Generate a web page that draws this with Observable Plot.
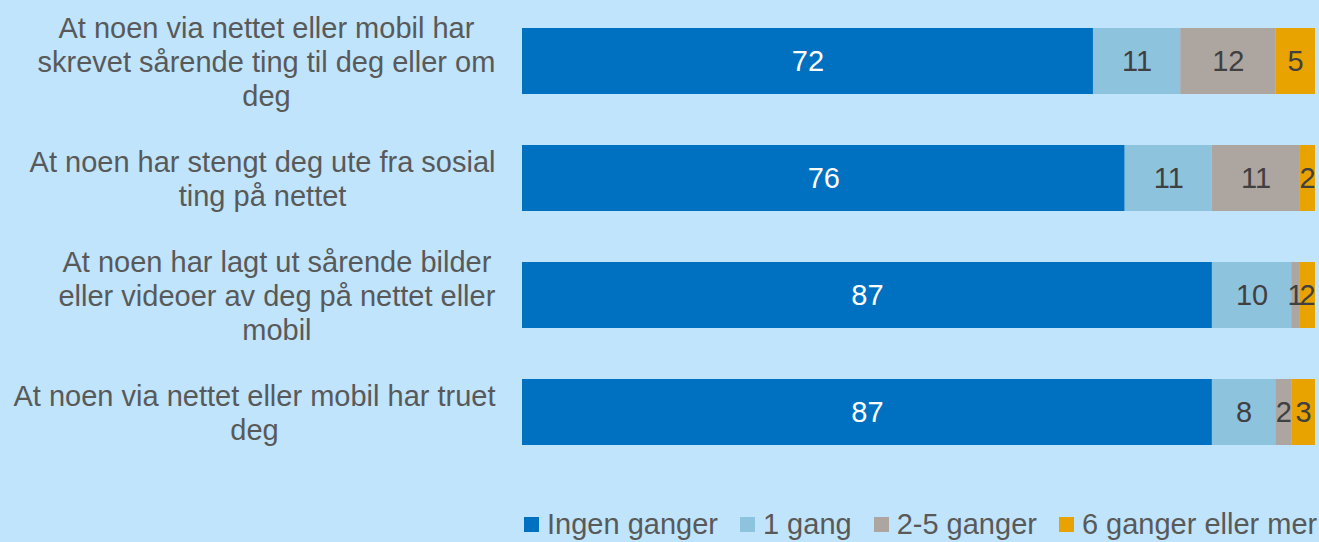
<!DOCTYPE html>
<html>
<head>
<meta charset="utf-8">
<script src="https://cdn.jsdelivr.net/npm/d3@7"></script>
<script src="https://cdn.jsdelivr.net/npm/@observablehq/plot@0.6"></script>
<style>
  html, body { margin: 0; padding: 0; background: #BFE4FC; }
  #chart { width: 1319px; height: 542px; position: relative; background: #BFE4FC; font-family: "Liberation Sans", Arial, sans-serif; }
  .legend { display: flex; align-items: center; position: absolute; left: 524px; top: 508px; font-size: 29px; color: #595959; white-space: nowrap; }
  .legend .item { display: flex; align-items: center; margin-right: 22px; }
  .legend .sw { width: 15px; height: 15px; margin-right: 8px; }
</style>
</head>
<body>
<div id="chart"></div>
<script>
const categories = [
  "At noen via nettet eller mobil har\nskrevet sårende ting til deg eller om\ndeg",
  "At noen har stengt deg ute fra sosial\nting på nettet",
  "At noen har lagt ut sårende bilder\neller videoer av deg på nettet eller\nmobil",
  "At noen via nettet eller mobil har truet\ndeg"
];
const seriesNames = ["Ingen ganger", "1 gang", "2-5 ganger", "6 ganger eller mer"];
const ingenGanger = [72, 76, 87, 87];
const enGang = [11, 11, 10, 8];
const toFemGanger = [12, 11, 1, 2];
const seksEllerMer = [5, 2, 2, 3];
const colors = ["#0070C0", "#8EC3DE", "#ADA6A0", "#E9A300"];

const seriesValues = [ingenGanger, enGang, toFemGanger, seksEllerMer];
const data = [];
categories.forEach((c, i) => {
  seriesNames.forEach((s, j) => {
    data.push({category: c, series: s, value: seriesValues[j][i]});
  });
});

const plot = Plot.plot({
  width: 1319,
  height: 500,
  marginLeft: 522,
  marginRight: 4,
  marginTop: 1,
  marginBottom: 29,
  style: {background: "transparent", fontFamily: "Liberation Sans, Arial, sans-serif"},
  x: {domain: [0, 100], axis: null},
  y: {domain: categories, axis: null, paddingInner: 0.44, paddingOuter: 0.22},
  color: {domain: seriesNames, range: colors},
  marks: [
    Plot.barX(data, Plot.stackX({x: "value", y: "category", fill: "series", order: seriesNames})),
    Plot.text(data, Plot.stackX({
      x: "value", y: "category", z: "series", order: seriesNames,
      text: d => String(d.value),
      fill: d => d.series === "Ingen ganger" ? "#FFFFFF" : "#404040",
      fontSize: 29
    })),
    Plot.text(categories, {
      y: d => d, frameAnchor: "left", dx: -27, textAnchor: "end",
      text: d => d, fontSize: 29, lineHeight: 1.17, fill: "#595959"
    })
  ]
});

const chart = document.getElementById("chart");
chart.appendChild(plot);
plot.style.position = "absolute";
plot.style.left = "0px";
plot.style.top = "0px";
plot.style.overflow = "visible";

// center each multi-line category label on its own block, right edge at the axis gap
plot.querySelectorAll("text").forEach(t => {
  if (!t.textContent.startsWith("At noen")) return;
  const w = t.getBBox().width;
  t.setAttribute("text-anchor", "middle");
  t.querySelectorAll("tspan").forEach(ts => ts.setAttribute("x", -w / 2));
});

const legend = document.createElement("div");
legend.className = "legend";
seriesNames.forEach((s, j) => {
  const item = document.createElement("div");
  item.className = "item";
  const sw = document.createElement("div");
  sw.className = "sw";
  sw.style.background = colors[j];
  const t = document.createElement("span");
  t.textContent = s;
  item.appendChild(sw);
  item.appendChild(t);
  legend.appendChild(item);
});
chart.appendChild(legend);
</script>
</body>
</html>
